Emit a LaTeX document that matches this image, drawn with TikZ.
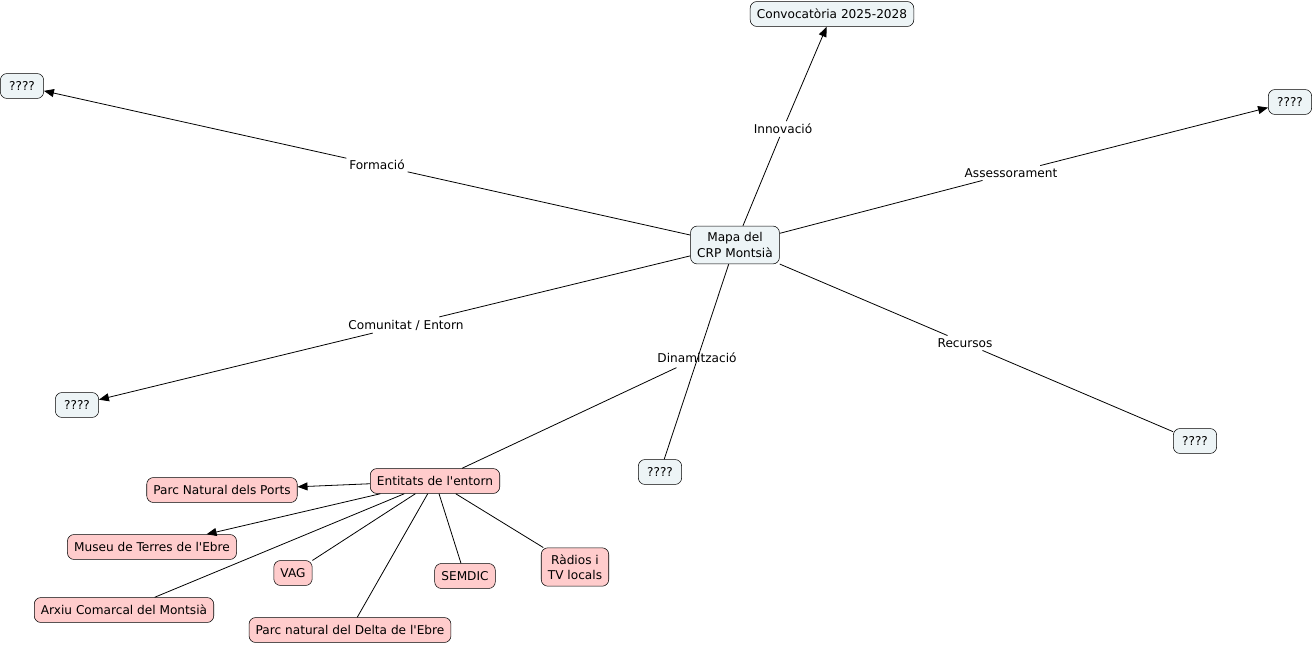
\documentclass[tikz,border=0pt]{standalone}
\usepackage{fontspec}
\setmainfont{DejaVu Sans}[Ligatures=TeXOff]
\usetikzlibrary{arrows.meta}
\definecolor{cmapblue}{RGB}{237,244,246}
\definecolor{cmappink}{RGB}{255,204,204}

\begin{document}
\begin{tikzpicture}[
    x=0.75pt, y=-0.75pt,
    every node/.style={font=\fontsize{9.1}{11.4}\selectfont},
    concept/.style={draw, fill=cmapblue, rounded corners=5pt, inner xsep=5pt, inner ysep=5pt, minimum height=18.7pt, align=center},
    qbox/.style={concept, minimum width=32.5pt},
    entity/.style={concept, fill=cmappink},
    phrase/.style={fill=white, inner sep=2pt},
    link/.style={line width=.6pt},
    arr/.style={link, -{Triangle[length=7.5pt, width=6pt]}}
    ]
        \useasboundingbox (0,0) rectangle (1313,646);

        % concepts
        \node [concept] (mapa) at (735,245) {Mapa del\\CRP Montsià};
        \node [concept] (conv) at (832,14) {Convocatòria 2025-2028};
        \node [qbox] (qA) at (22,86) {????};
        \node [qbox] (qB) at (1290,102) {????};
        \node [qbox] (qC) at (77,405) {????};
        \node [qbox] (qD) at (660,472) {????};
        \node [qbox] (qE) at (1195,441) {????};

        % entities
        \node [entity] (entorn) at (435,481) {Entitats de l'entorn};
        \node [entity] (ports) at (222,490) {Parc Natural dels Ports};
        \node [entity] (museu) at (152,547) {Museu de Terres de l'Ebre};
        \node [entity] (vag) at (293,573) {VAG};
        \node [entity] (semdic) at (465,576) {SEMDIC};
        \node [entity] (radios) at (575,567) {Ràdios i\\TV locals};
        \node [entity] (arxiu) at (124,610) {Arxiu Comarcal del Montsià};
        \node [entity] (delta) at (350,630) {Parc natural del Delta de l'Ebre};

        % linking phrases
        \node [phrase] (pInnov) at (783,129) {Innovació};
        \node [phrase] (pForm) at (377,165) {Formació};
        \node [phrase] (pAsses) at (1011,173) {Assessorament};
        \node [phrase] (pCom) at (406,325) {Comunitat / Entorn};
        \node [phrase] (pRec) at (965,343) {Recursos};

        \draw [link] (mapa) -- (pInnov);
        \draw [arr] (pInnov) -- (conv);
        \draw [link] (mapa) -- (pForm);
        \draw [arr] (pForm) -- (qA);
        \draw [link] (mapa) -- (pAsses);
        \draw [arr] (pAsses) -- (qB);
        \draw [link] (mapa) -- (pCom);
        \draw [arr] (pCom) -- (qC);
        \draw [link] (mapa) -- (pRec);
        \draw [link] (pRec) -- (qE);

        \node (pDin) at (697,358) {Dinamització};
        \draw [link] (mapa) -- (qD);
        \draw [link] (pDin) -- (entorn);

        \draw [arr] (entorn) -- (ports);
        \draw [arr] (entorn) -- (museu);
        \draw [link] (entorn) -- (vag);
        \draw [link] (entorn) -- (semdic);
        \draw [link] (entorn) -- (radios);
        \draw [link] (entorn) -- (arxiu);
        \draw [link] (entorn) -- (delta);
\end{tikzpicture}
\end{document}
